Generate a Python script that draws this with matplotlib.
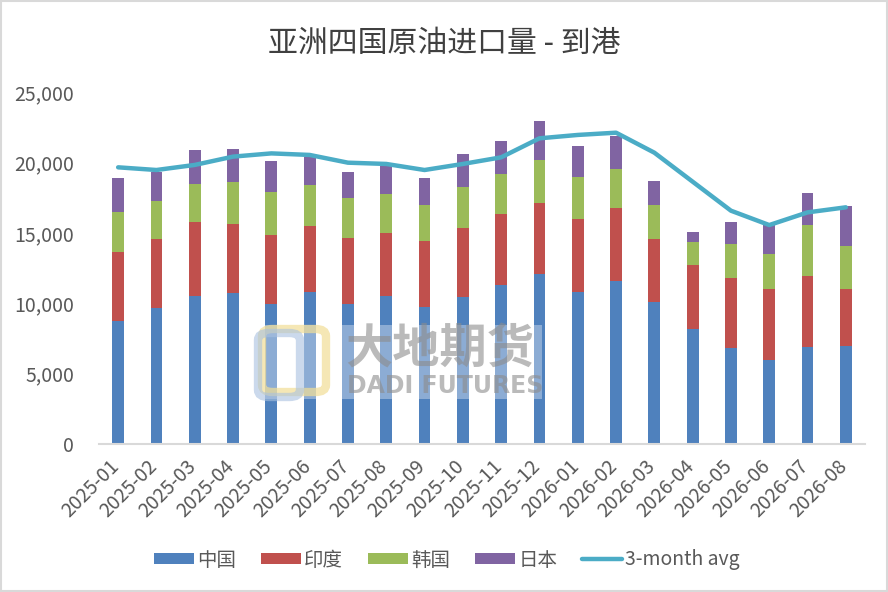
import matplotlib
matplotlib.use("Agg")
import matplotlib.pyplot as plt
import matplotlib.transforms as mtransforms
import numpy as np
from matplotlib.ticker import FuncFormatter, FixedLocator
from matplotlib.patches import FancyBboxPatch, Rectangle

plt.rcParams['font.family'] = ['Noto Sans CJK SC', 'DejaVu Sans']

months = ["2025-01", "2025-02", "2025-03", "2025-04", "2025-05", "2025-06", "2025-07",
          "2025-08", "2025-09", "2025-10", "2025-11", "2025-12", "2026-01", "2026-02",
          "2026-03", "2026-04", "2026-05", "2026-06", "2026-07", "2026-08"]
china = [8740, 9680, 10540, 10720, 9970, 10820, 9970, 10540, 9730, 10440,
         11290, 12100, 10820, 11580, 10110, 8170, 6840, 5990, 6890, 6980]
india = [4900, 4880, 5230, 4900, 4870, 4660, 4660, 4450, 4690, 4900,
         5040, 5020, 5160, 5180, 4450, 4540, 4950, 5020, 5040, 4030]
korea = [2840, 2700, 2700, 2980, 3050, 2910, 2840, 2770, 2560, 2910,
         2840, 3050, 2980, 2770, 2410, 1630, 2410, 2490, 3620, 3050]
japan = [2410, 2060, 2410, 2340, 2200, 2010, 1850, 1950, 1920, 2340,
         2340, 2770, 2200, 2370, 1710, 710, 1560, 2180, 2270, 2840]
avg3 = [19650, 19460, 19820, 20410, 20640, 20530, 19980, 19890, 19460, 19890,
        20360, 21710, 21950, 22110, 20690, 18630, 16570, 15550, 16450, 16810]

series = [("中国", china, "#4F81BD"), ("印度", india, "#C0504D"),
          ("韩国", korea, "#9BBB59"), ("日本", japan, "#8064A2")]

W, H = 888, 592
fig = plt.figure(figsize=(W / 100, H / 100), dpi=100)
ax = fig.add_axes([99 / W, 1 - 444 / H, 766 / W, 352 / H])

x = np.arange(len(months))
bottom = np.zeros(len(months))
handles = []
for name, vals, col in series:
    b = ax.bar(x, vals, width=0.31, bottom=bottom, color=col, label=name, zorder=2)
    handles.append(b)
    bottom += np.array(vals)

ln, = ax.plot(x, avg3, color="#4BACC6", linewidth=3.2, label="3-month avg", zorder=3,
              solid_capstyle="round")
handles.append(ln)

ax.set_xlim(-0.5, len(months) - 0.5)
ax.set_ylim(0, 25000)
ax.yaxis.set_major_locator(FixedLocator([0, 5000, 10000, 15000, 20000, 25000]))
ax.yaxis.set_major_formatter(FuncFormatter(lambda v, p: f"{int(v):,}"))
ax.set_xticks(x)
ax.set_xticklabels(months, rotation=45, ha="right", va="center", rotation_mode="anchor")
ax.tick_params(axis="both", length=0, labelsize=14, colors="#595959")
ax.tick_params(axis="y", pad=18)
ax.tick_params(axis="x", pad=14)
offset = mtransforms.ScaledTranslation(-2 / 100, 0, fig.dpi_scale_trans)
for lab in ax.get_xticklabels():
    lab.set_transform(lab.get_transform() + offset)
for s in ["top", "right", "left"]:
    ax.spines[s].set_visible(False)
ax.spines["bottom"].set_color("#D9D9D9")
ax.spines["bottom"].set_linewidth(1.5)

# watermark
def fx(px):
    return px / W

def fy(py):
    return 1 - py / H

fig.patches.append(Rectangle((fx(259), fy(399)), fx(542) - fx(259), fy(325) - fy(399),
                             transform=fig.transFigure, facecolor="white", alpha=0.35,
                             edgecolor="none", zorder=4))
fig.patches.append(FancyBboxPatch((fx(262), fy(392)), fx(326) - fx(262), fy(329) - fy(392),
                                  boxstyle="round,pad=0,rounding_size=0.012",
                                  transform=fig.transFigure, facecolor="none",
                                  edgecolor="#F2DE96", linewidth=6, alpha=0.7, zorder=4))
fig.patches.append(FancyBboxPatch((fx(258), fy(397)), fx(300) - fx(258), fy(333) - fy(397),
                                  boxstyle="round,pad=0,rounding_size=0.012",
                                  transform=fig.transFigure, facecolor="none",
                                  edgecolor="#A9C1E0", linewidth=6, alpha=0.6, zorder=4))
fig.text(fx(345), fy(350), "大地期货", fontsize=34, color="#8C8C8C", alpha=0.6,
         ha="left", va="center", fontweight="bold", zorder=5)
fig.text(fx(347), fy(386), "DADI FUTURES", fontsize=17, color="#8C8C8C", alpha=0.6,
         ha="left", va="center", fontweight="bold", zorder=5, family="DejaVu Sans")

fig.suptitle("亚洲四国原油进口量 - 到港", fontsize=21.5, color="#404040", y=fy(43), va="center")

fig.legend(handles=handles, labels=[s[0] for s in series] + ["3-month avg"],
           loc="center", bbox_to_anchor=(fx(447), fy(560)), ncol=5, frameon=False,
           fontsize=14, handlelength=2.05, handleheight=0.55, columnspacing=1.3,
           handletextpad=0.15, labelcolor="#595959")

fig.patches.append(Rectangle((0.001, 0.001), 0.998, 0.998, transform=fig.transFigure,
                             fill=False, edgecolor="#D9D9D9", linewidth=1.5))

fig.savefig("out.png", dpi=100)
